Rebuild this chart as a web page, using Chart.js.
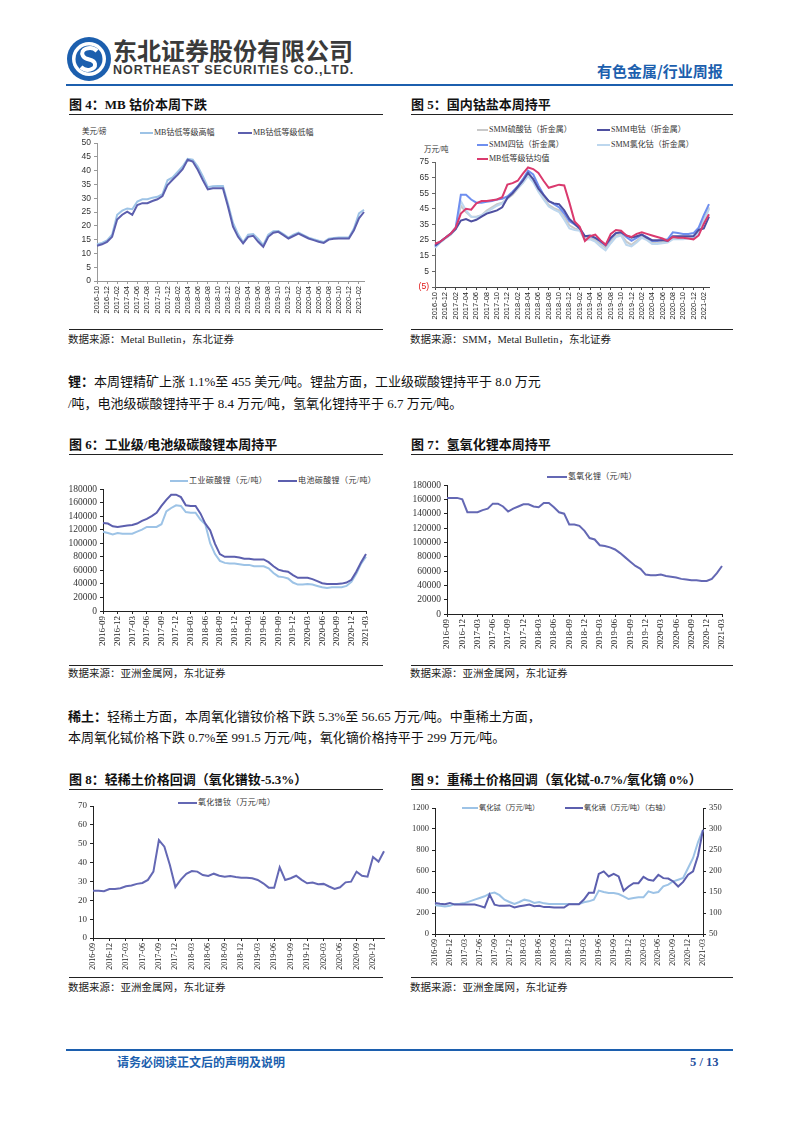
<!DOCTYPE html>
<html>
<head>
<meta charset="utf-8">
<script src="https://cdn.jsdelivr.net/npm/chart.js"></script>
<style>
body{margin:0;background:#fff;}
#page{position:relative;width:793px;height:1122px;overflow:hidden;font-family:"Liberation Serif","Noto Sans CJK SC",serif;color:#111;}
.a{position:absolute;white-space:nowrap;line-height:1;}
.rule{position:absolute;height:1px;background:#222;}
canvas{position:absolute;}
.t{font-weight:bold;font-size:13px;}
.src{font-size:10.5px;color:#222;}
.p{font-size:13px;}
.lg{position:absolute;white-space:nowrap;line-height:1;font-size:8px;color:#333;display:flex;align-items:center;}
.lg i{display:inline-block;height:2px;margin-right:1px;}
</style>
</head>
<body>
<div id="page">

<!-- header -->
<svg class="a" style="left:66px;top:36px" width="46" height="46" viewBox="0 0 46 46">
<circle cx="23" cy="23" r="22" fill="#1c5fae"/>
<circle cx="23" cy="23" r="17" fill="#fff"/>
<circle cx="23" cy="23" r="13.5" fill="#1c5fae"/>
<path d="M31 15 C25 9 13 13 17 20 C20 25 28 22 29 28 C30 34 20 36 15 31" stroke="#fff" stroke-width="4" fill="none"/>
</svg>
<div class="a" style="left:113px;top:38px;font-family:'Noto Sans CJK SC';font-weight:bold;font-size:24px;color:#3a3a3a">东北证券股份有限公司</div>
<div class="a" style="left:113px;top:64px;font-family:'Liberation Sans';font-weight:bold;font-size:12.5px;letter-spacing:1px;color:#3a3a3a">NORTHEAST SECURITIES CO.,LTD.</div>
<div class="a" style="left:597px;top:63px;font-family:'Noto Sans CJK SC';font-weight:bold;font-size:15px;color:#1c5fae">有色金属/行业周报</div>
<div class="rule" style="left:66px;top:84px;width:667px;height:1.5px;background:#1c5fae"></div>

<!-- figure 4 / 5 -->
<div class="a t" style="left:69px;top:98px">图 4：MB 钴价本周下跌</div>
<div class="rule" style="left:69px;top:114px;width:314px"></div>
<div class="a t" style="left:411px;top:98px">图 5：国内钴盐本周持平</div>
<div class="rule" style="left:411px;top:114px;width:322px"></div>

<div class="a" style="left:82px;top:128px;font-size:7.5px;color:#333">美元/磅</div>
<div class="lg" style="left:140px;top:129px"><i style="width:13px;background:#9DC3E6"></i>MB钴低等级高幅</div>
<div class="lg" style="left:238px;top:129px"><i style="width:14px;background:#5C5FAE"></i>MB钴低等级低幅</div>
<canvas id="c4"></canvas>

<div class="lg" style="left:477px;top:126px"><i style="width:11px;background:#C9C9C9"></i>SMM硫酸钴（折金属）</div>
<div class="lg" style="left:597px;top:126px"><i style="width:13px;background:#4E4FA0"></i>SMM电钴（折金属）</div>
<div class="lg" style="left:477px;top:141px"><i style="width:11px;background:#6F8FEF"></i>SMM四钴（折金属）</div>
<div class="lg" style="left:597px;top:141px"><i style="width:13px;background:#BDD7EE"></i>SMM氯化钴（折金属）</div>
<div class="lg" style="left:477px;top:155px"><i style="width:11px;background:#DA3A6E"></i>MB低等级钴均值</div>
<div class="a" style="left:424px;top:146px;font-size:7.5px;color:#333">万元/吨</div>
<canvas id="c5"></canvas>

<div class="rule" style="left:69px;top:329px;width:314px"></div>
<div class="a src" style="left:68px;top:335px">数据来源：Metal Bulletin，东北证券</div>
<div class="rule" style="left:411px;top:329px;width:322px"></div>
<div class="a src" style="left:410px;top:335px">数据来源：SMM，Metal Bulletin，东北证券</div>

<div class="a p" style="left:68px;top:375px"><b>锂：</b>本周锂精矿上涨 1.1%至 455 美元/吨。锂盐方面，工业级碳酸锂持平于 8.0 万元</div>
<div class="a p" style="left:68px;top:397px">/吨，电池级碳酸锂持平于 8.4 万元/吨，氢氧化锂持平于 6.7 万元/吨。</div>

<!-- figure 6 / 7 -->
<div class="a t" style="left:69px;top:438px">图 6：工业级/电池级碳酸锂本周持平</div>
<div class="rule" style="left:69px;top:454px;width:314px"></div>
<div class="a t" style="left:411px;top:438px">图 7：氢氧化锂本周持平</div>
<div class="rule" style="left:411px;top:454px;width:322px"></div>

<div class="lg" style="left:170px;top:477px;letter-spacing:0.4px"><i style="width:18px;background:#9DC3E6"></i>工业碳酸锂（元/吨）</div>
<div class="lg" style="left:278px;top:477px;letter-spacing:0.4px"><i style="width:19px;background:#5C5FAE"></i>电池碳酸锂（元/吨）</div>
<canvas id="c6"></canvas>
<div class="lg" style="left:547px;top:473px;letter-spacing:0.3px"><i style="width:20px;background:#6468B4"></i>氢氧化锂（元/吨）</div>
<canvas id="c7"></canvas>

<div class="rule" style="left:69px;top:665px;width:314px"></div>
<div class="a src" style="left:68px;top:669px">数据来源：亚洲金属网，东北证券</div>
<div class="rule" style="left:411px;top:665px;width:322px"></div>
<div class="a src" style="left:410px;top:669px">数据来源：亚洲金属网，东北证券</div>

<div class="a p" style="left:68px;top:710px"><b>稀土：</b>轻稀土方面，本周氧化镨钕价格下跌 5.3%至 56.65 万元/吨。中重稀土方面，</div>
<div class="a p" style="left:68px;top:731px">本周氧化铽价格下跌 0.7%至 991.5 万元/吨，氧化镝价格持平于 299 万元/吨。</div>

<!-- figure 8 / 9 -->
<div class="a t" style="left:69px;top:773px">图 8：轻稀土价格回调（氧化镨钕-5.3%）</div>
<div class="rule" style="left:69px;top:789px;width:314px"></div>
<div class="a t" style="left:411px;top:773px">图 9：重稀土价格回调（氧化铽-0.7%/氧化镝 0%）</div>
<div class="rule" style="left:411px;top:789px;width:322px"></div>

<div class="lg" style="left:178px;top:799px;letter-spacing:0.3px"><i style="width:19px;background:#6468B4"></i>氧化镨钕（万元/吨）</div>
<canvas id="c8"></canvas>
<div class="lg" style="left:462px;top:804px;font-size:7.3px"><i style="width:16px;background:#9DC3E6"></i>氧化铽（万元/吨）</div>
<div class="lg" style="left:565px;top:804px;font-size:7.3px"><i style="width:18px;background:#5C5FAE"></i>氧化镝（万元/吨）（右轴）</div>
<canvas id="c9"></canvas>

<div class="rule" style="left:69px;top:977px;width:314px"></div>
<div class="a src" style="left:68px;top:983px">数据来源：亚洲金属网，东北证券</div>
<div class="rule" style="left:411px;top:977px;width:322px"></div>
<div class="a src" style="left:410px;top:983px">数据来源：亚洲金属网，东北证券</div>

<!-- footer -->
<div class="rule" style="left:66px;top:1049px;width:667px;height:1.5px;background:#1c5fae"></div>
<div class="a" style="left:117px;top:1056px;font-family:'Noto Sans CJK SC';font-weight:bold;font-size:12px;color:#1c5fae">请务必阅读正文后的声明及说明</div>
<div class="a" style="left:690px;top:1056px;font-weight:bold;font-size:12.5px;color:#1f4e9c">5 / 13</div>

</div>
<script>
function months(from, to){
  let [y, m] = from.split('-').map(Number);
  const out = [];
  while (true) {
    const s = y + '-' + String(m).padStart(2, '0');
    out.push(s);
    if (s === to) break;
    m++; if (m > 12) { m = 1; y++; }
  }
  return out;
}

// fig 4: MB cobalt, USD/lb, 2016-10 .. 2021-03
const months4 = months('2016-10', '2021-03');
const mbHigh = [13.3,13.8,14.7,16.8,24,25.5,26.3,26,28.8,29.6, 29.6,30.2,30.5,31.5,36.5,37.5,39.5,41.5,44.3,44,
  41.5,38,34,34.3,34.4,34.4,28,21,17,14, 16.8,17,15.2,13,16.8,18,18.1,17,15.7,16.8,
  17.5,16.6,15.7,15.1,14.6,14.1,15.3,15.6,15.8,15.8, 15.8,19,24.5,25.8];
const mbLow = [12.8,13.3,14.2,16,22.3,24,25.1,24,27.5,28.2, 28.2,29,29.6,30.8,34.8,36.7,38.5,40.5,43.9,43.3,
  40.3,36.6,33.2,33.6,33.6,33.6,27,19.7,16,13.6, 16,16.4,14.2,12.4,16,17.5,17.8,16.6,15.4,16.3,
  17.2,16.3,15.4,14.8,14.2,13.8,15,15.3,15.4,15.4, 15.4,18.4,22.7,25];

// fig 5: domestic cobalt salts, 10k CNY/t
const months5 = months('2016-10', '2021-03');
const mbAvg = [22.7,24,26.5,29,33,42,45,44.5,48.5,50, 50,50.5,51,52.5,60.5,61.5,63,67.5,71.5,70.5,
  68,63,58.5,59.5,60.5,60,49,37,33.5,24.5, 27.5,28.5,25,22,29,31.5,31,28,27,29,
  30,29,28,27,26,24.5,27,26.5,26.5,26, 25.5,28,35.5,41.5];
const coMetal = [21.5,24,26.5,29,32,37.5,38.5,37,38,40, 42,43,44,46,52,55,59,63,68,64,
  58,54,50,48.5,48,44,38.5,35.5,32.5,27.5, 28,26.5,24.5,22,26.5,29.5,30,28,26.5,27.5,
  28.5,26.5,25,25,25,24.5,27.5,27.5,27.5,27.5, 27.5,31.5,32.5,40];
const coTetroxide = [21,24,26.5,29,33,54,54,51,49,49, 49.5,50,51,51.5,53,56,59.5,64,69.5,67,
  60,54,50,48,46,42,37,35,32.5,27.5, 27.5,26.5,24,21.5,26,29.5,30,27,24.5,26.5,
  28.5,27,24.5,24.5,25,25.5,30,29.5,29,29, 29.5,33,41,48];
const coChloride = [20,23.5,26,28.5,32,50,44,40,39.5,41, 43,45,47,48.5,52,55,58,61.5,66,62,
  56,51,46.5,44.5,43,38,32.5,31.5,31,25, 25.5,24,21,18.5,23,27,28,22,21,23.5,
  26.5,25,22.5,22.5,23,23.5,25.5,25.5,25.5,26, 26.5,30,37,45];
const coSulfate = [20.5,23.5,26,28.5,32,47,43,40,40,41, 44,46,48,49,51.5,54,58,62,67,63,
  57,52,47.5,45.5,44,40,34.5,32.5,31.5,26, 26.5,25,22.5,20,24.5,28,28.5,24,22,24.5,
  27,25.5,23.5,23,24,24,26.5,26.5,26.5,26.5, 27,31,38,46];

// fig 6: lithium carbonate, CNY/t, 2016-09 .. 2021-03
const months6 = months('2016-09', '2021-03');
const liIndustrial = [117000,115000,113000,115000,114000,114000,114000,117000,120000,124000,
  124000,124000,128000,147000,152000,156000,155000,146000,145000,145000,
  135000,128000,100000,84000,74000,71000,70000,70000,69000,68000,
  68000,66000,66000,66000,63000,56000,51000,50000,48000,42000,
  39000,39000,40000,39000,37000,35000,34000,35000,35000,35000,
  37000,43000,55000,70000,80000];
const liBattery = [130000,129000,125000,124000,125000,126000,127000,129000,133000,136000,
  140000,145000,155000,164000,171600,171600,168000,156000,155000,155000,
  144000,129000,119000,99000,84000,80000,80000,80000,79000,77000,
  77000,76000,76000,76000,72000,66000,61000,59000,58000,53000,
  49000,49000,49000,47000,44000,41000,40000,40000,40000,40400,
  42000,46000,58000,72000,84000];

// fig 7: lithium hydroxide, CNY/t
const months7 = months('2016-09', '2021-03');
const liHydroxide = [162000,162000,162000,160000,142000,142000,142000,145000,147000,154000,
  154000,150000,143000,147000,150000,153000,153000,150000,149000,155000,
  155000,149000,142000,140000,125000,125000,123000,116000,106000,104000,
  96000,95000,93000,90000,85000,79000,73000,67000,63000,55000,
  54000,54000,55000,53000,52000,51000,49000,48000,47000,47000,
  46000,46000,49000,57000,67000];

// fig 8: PrNd oxide, 10k CNY/t, 2016-09 .. 2021-02
const months8 = months('2016-09', '2021-02');
const ndPr = [25.1,25,24.8,26,26,26.4,27.4,27.8,28.7,29.2, 30.8,35.2,51.9,48.4,38.7,27,31,34,35.5,35.2,
  33.4,32.9,34.1,33,32.5,32.9,32.4,32,32,31.7, 30.8,29,26.7,26.7,37.5,30.8,31.7,33,30.8,29,
  29.4,28.5,28.7,27.3,26,26.9,29.5,29.9,35.2,33, 32.5,43,40.5,46];

// fig 9: Tb oxide (left) / Dy oxide (right), 10k CNY/t
const months9 = months('2016-09', '2021-03');
const tbOxide = [273,270,263,270,286,289,295,311,327,343, 359,385,395,370,327,305,286,305,327,317,
  295,305,292,286,286,286,286,286,286,286, 302,311,327,413,400,390,390,381,359,333,
  343,349,349,406,390,400,454,470,502,517, 533,629,724,876,991];
const dyOxide = [124,122,121,124,120,120,120,120,120,117, 113,144,120,117,117,118,113,116,118,120,
  116,117,114,114,113,113,113,121,121,121, 132,148,148,193,199,187,193,187,153,163,
  171,171,186,179,177,191,183,182,175,163, 174,191,199,237,298];

Chart.defaults.font.family = '"Liberation Serif","Noto Sans CJK SC"';
Chart.defaults.color = '#333';

function place(id, b){
  const c = document.getElementById(id);
  c.width = b.R - b.L + b.yW + (b.yRW || 0) + b.padR;
  c.height = b.B - b.T + b.padT + b.xH;
  c.style.left = (b.L - b.yW) + 'px';
  c.style.top = (b.T - b.padT) + 'px';
  return c;
}
function fitY(w){ return s => { s.width = w; s.paddingTop = 0; s.paddingBottom = 0; }; }
function fitX(h){ return s => { s.height = h; s.paddingLeft = 0; s.paddingRight = 0; }; }
function every(n){ return function(v, i){ return i % n === 0 ? this.getLabelForValue(v) : null; }; }

function line(label, data, color, extra){
  return Object.assign({label, data, borderColor: color, borderWidth: 2, pointRadius: 0, fill: false, tension: 0}, extra || {});
}

function xAxis(b, n, font, col){
  return {
    type: 'category', offset: false, afterFit: fitX(b.xH),
    ticks: {autoSkip: false, maxRotation: 90, minRotation: 90, padding: 2, font: font, color: '#222', callback: every(n)},
    grid: {display: true, drawOnChartArea: false, drawTicks: true, tickLength: 3, color: col},
    border: {display: true, color: col, width: 1}
  };
}
function yAxis(b, min, max, step, font, col, extra){
  return Object.assign({
    min, max, afterFit: fitY(b.yW),
    ticks: {stepSize: step, autoSkip: false, font: font, padding: 3, callback: v => v},
    grid: {display: true, drawOnChartArea: false, drawTicks: true, tickLength: 3, color: col},
    border: {display: true, color: col, width: 1}
  }, extra || {});
}
function opts(b, scales){
  return {
    responsive: false, animation: false,
    layout: {padding: {top: b.padT, right: b.padR, left: 0, bottom: 0}},
    plugins: {legend: {display: false}, tooltip: {enabled: false}},
    scales
  };
}

const sans = {family: '"Liberation Sans","Noto Sans CJK SC"', size: 7.5};
const sansY = {family: '"Liberation Sans","Noto Sans CJK SC"', size: 8.5};

// fig 4
const b4 = {L: 97, T: 143, R: 364, B: 281, yW: 31, padT: 8, padR: 6, xH: 36};
new Chart(place('c4', b4), {
  type: 'line',
  data: {labels: months4, datasets: [
    line('MB钴低等级低幅', mbLow, '#5C5FAE'),
    line('MB钴低等级高幅', mbHigh, '#9DC3E6')
  ]},
  options: opts(b4, {x: xAxis(b4, 2, sans, '#999'), y: yAxis(b4, 0, 50, 5, sansY, '#999')})
});

// fig 5
const b5 = {L: 435, T: 162, R: 709, B: 287, yW: 27, padT: 8, padR: 6, xH: 36};
const y5 = yAxis(b5, -5, 75, 10, sansY, '#666');
y5.ticks.callback = v => v < 0 ? '(' + (-v) + ')' : v;
y5.ticks.color = ctx => ctx.tick && ctx.tick.value < 0 ? '#e01010' : '#333';
new Chart(place('c5', b5), {
  type: 'line',
  data: {labels: months5, datasets: [
    line('MB低等级钴均值', mbAvg, '#DA3A6E'),
    line('SMM电钴（折金属）', coMetal, '#4E4FA0'),
    line('SMM四钴（折金属）', coTetroxide, '#6F8FEF'),
    line('SMM氯化钴（折金属）', coChloride, '#BDD7EE'),
    line('SMM硫酸钴（折金属）', coSulfate, '#C9C9C9')
  ]},
  options: opts(b5, {x: xAxis(b5, 2, sans, '#444'), y: y5})
});

const serX = {size: 9};
const serY = {size: 9.5};

// fig 6
const b6 = {L: 103, T: 489, R: 366, B: 611, yW: 36, padT: 8, padR: 8, xH: 38};
new Chart(place('c6', b6), {
  type: 'line',
  data: {labels: months6, datasets: [
    line('电池碳酸锂（元/吨）', liBattery, '#5C5FAE'),
    line('工业碳酸锂（元/吨）', liIndustrial, '#9DC3E6')
  ]},
  options: opts(b6, {x: xAxis(b6, 3, serX, '#222'), y: yAxis(b6, 0, 180000, 20000, serY, '#222')})
});

// fig 7
const b7 = {L: 447, T: 485, R: 722, B: 614, yW: 37, padT: 8, padR: 8, xH: 38};
new Chart(place('c7', b7), {
  type: 'line',
  data: {labels: months7, datasets: [
    line('氢氧化锂（元/吨）', liHydroxide, '#6468B4')
  ]},
  options: opts(b7, {x: xAxis(b7, 3, serX, '#222'), y: yAxis(b7, 0, 180000, 20000, serY, '#222')})
});

// fig 8
const b8 = {L: 93, T: 806, R: 384, B: 938, yW: 22, padT: 8, padR: 6, xH: 36};
new Chart(place('c8', b8), {
  type: 'line',
  data: {labels: months8, datasets: [
    line('氧化镨钕（万元/吨）', ndPr, '#6468B4')
  ]},
  options: opts(b8, {x: xAxis(b8, 3, {size: 8}, '#222'), y: yAxis(b8, 0, 70, 10, {size: 9}, '#222')})
});

// fig 9
const b9 = {L: 435, T: 808, R: 703, B: 934, yW: 24, yRW: 26, padT: 8, padR: 6, xH: 36};
new Chart(place('c9', b9), {
  type: 'line',
  data: {labels: months9, datasets: [
    line('氧化镝（万元/吨）（右轴）', dyOxide, '#5C5FAE', {yAxisID: 'y1'}),
    line('氧化铽（万元/吨）', tbOxide, '#9DC3E6', {yAxisID: 'y'})
  ]},
  options: opts(b9, {
    x: xAxis(b9, 3, {size: 8}, '#222'),
    y: yAxis(b9, 0, 1200, 200, {size: 8.5}, '#222'),
    y1: yAxis({yW: 26}, 50, 350, 50, {size: 8.5}, '#222', {position: 'right'})
  })
});
</script>
</body>
</html>
